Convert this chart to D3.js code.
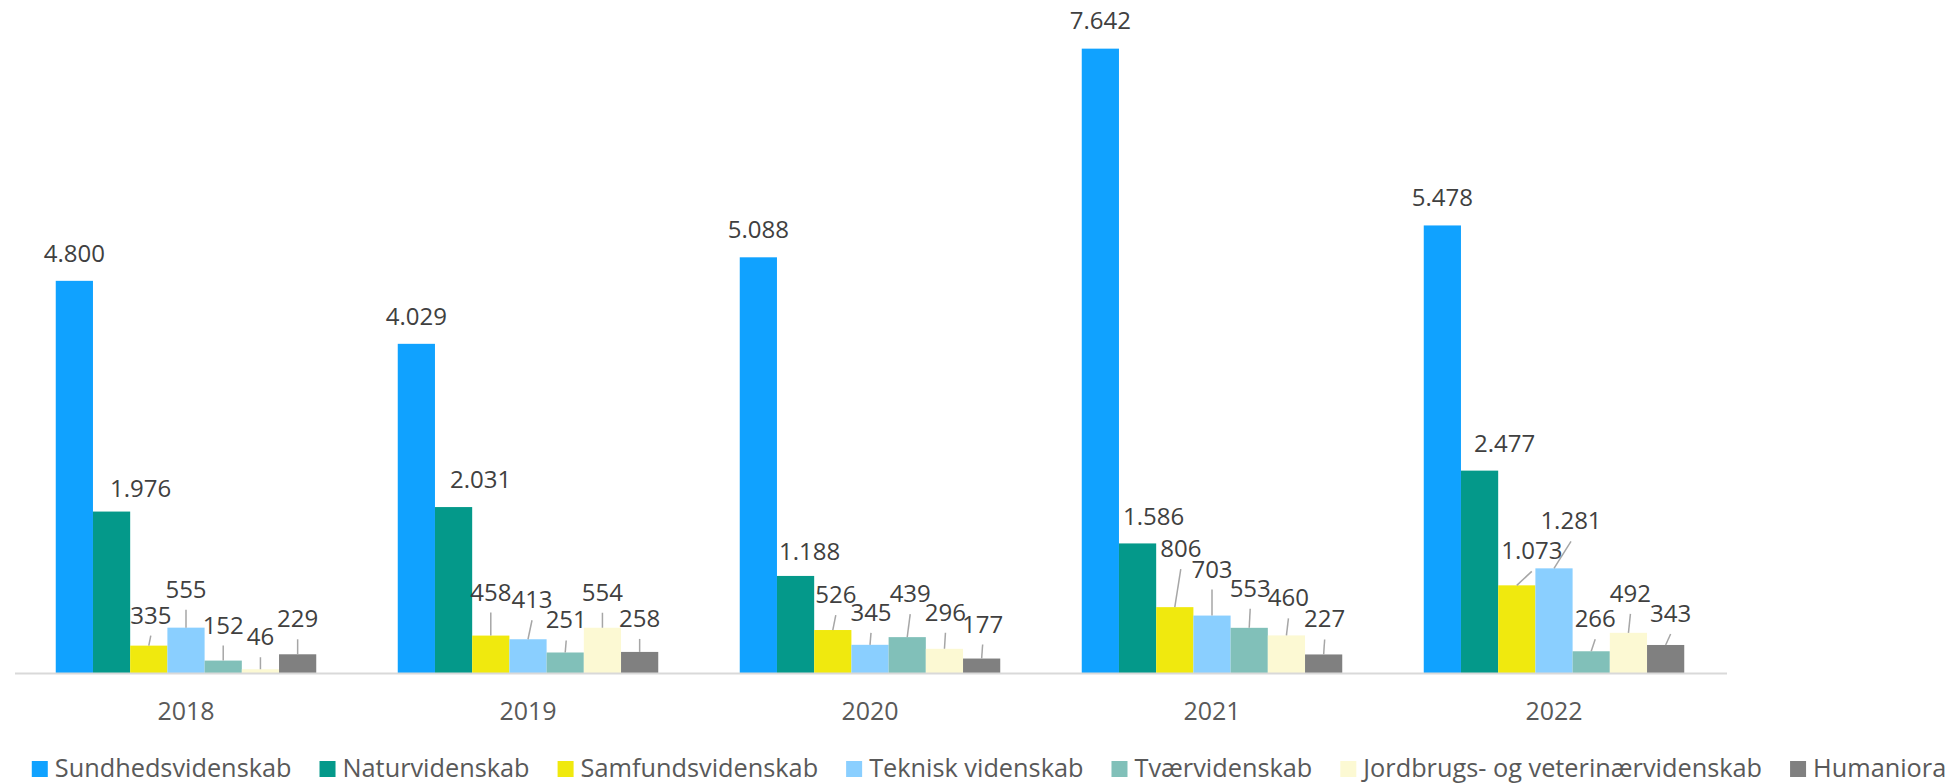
<!DOCTYPE html>
<html>
<head>
<meta charset="utf-8">
<script src="https://cdn.jsdelivr.net/npm/d3@7"></script>
<style>
  html, body { margin:0; padding:0; background:#fff; }
  svg text { font-family: "Open Sans", sans-serif; }
</style>
</head>
<body>
<div id="chart"></div>
<script>
// categories and series
var years = ["2018", "2019", "2020", "2021", "2022"];
var seriesNames = ["Sundhedsvidenskab", "Naturvidenskab", "Samfundsvidenskab", "Teknisk videnskab",
  "Tværvidenskab", "Jordbrugs- og veterinærvidenskab", "Humaniora"];
var sundhed   = [4800, 4029, 5088, 7642, 5478];
var natur     = [1976, 2031, 1188, 1586, 2477];
var samfund   = [335, 458, 526, 806, 1073];
var teknisk   = [555, 413, 345, 703, 1281];
var tvaer     = [152, 251, 439, 553, 266];
var jordbrug  = [46, 554, 296, 460, 492];
var humaniora = [229, 258, 177, 227, 343];
var seriesValues = [sundhed, natur, samfund, teknisk, tvaer, jordbrug, humaniora];

var colors = ["#10a2ff", "#04998a", "#f0e90e", "#8acfff", "#81c0b9", "#fcf9d3", "#808080"];

// hand placed labels as in the original: [shift right, distance above bar]
var labelNudge = [
  [[0,19],[0,19],[0,19],[0,20],[0,19]],
  [[29,15],[27,19],[14,16],[16,18],[25,19]],
  [[2,22],[0,35],[3,27],[6,50],[15,26]],
  [[0,30],[4,31],[1,24],[0,38],[17,39]],
  [[0,27],[1,24],[3,35],[1,31],[4,24]],
  [[0,24],[0,27],[1,28],[2,29],[2,31]],
  [[0,27],[0,25],[1,26],[1,27],[5,23]]
];

var width = 1958, height = 784;
var baseY = 673;

var svg = d3.select("#chart").append("svg")
  .attr("width", width)
  .attr("height", height);

var locale = d3.formatLocale({decimal: ",", thousands: ".", grouping: [3], currency: ["", " kr"]});
var fmt = locale.format(",d");

var x0 = d3.scaleBand().domain(years).range([15, 1725]).padding(0);
var x1 = d3.scaleBand().domain(seriesNames).range([0, x0.bandwidth()])
  .paddingInner(0).paddingOuter(1.095);
var y = d3.scaleLinear().domain([0, 8000]).range([baseY, baseY - 8000 * 0.0817]);

// flatten
var points = [];
seriesNames.forEach(function(s, si){
  years.forEach(function(yr, yi){
    points.push({series: s, si: si, year: yr, yi: yi, value: seriesValues[si][yi]});
  });
});

var g = svg.append("g");

g.selectAll("rect.bar")
  .data(points)
  .enter()
  .append("rect")
  .attr("class", "bar")
  .attr("x", function(d){ return x0(d.year) + x1(d.series); })
  .attr("y", function(d){ return y(d.value); })
  .attr("width", x1.bandwidth())
  .attr("height", function(d){ return baseY - y(d.value); })
  .attr("fill", function(d){ return colors[d.si]; });

// axis line
svg.append("line")
  .attr("x1", 15).attr("x2", 1727)
  .attr("y1", baseY + 0.5).attr("y2", baseY + 0.5)
  .attr("stroke", "#d9d9d9")
  .attr("stroke-width", 2);

// category labels
svg.selectAll("text.year")
  .data(years)
  .enter()
  .append("text")
  .attr("class", "year")
  .attr("x", function(d){ return x0(d) + x0.bandwidth() / 2; })
  .attr("y", 720)
  .attr("text-anchor", "middle")
  .attr("fill", "#595959")
  .style("font-size", "25px")
  .text(function(d){ return d; });

// data labels + leader lines
function labelX(d){ return x0(d.year) + x1(d.series) + x1.bandwidth() / 2 + labelNudge[d.si][d.yi][0]; }
function labelY(d){ return y(d.value) - labelNudge[d.si][d.yi][1]; }

g.selectAll("line.leader")
  .data(points.filter(function(d){ return labelNudge[d.si][d.yi][1] > 21; }))
  .enter()
  .append("line")
  .attr("class", "leader")
  .attr("x1", labelX)
  .attr("y1", function(d){ return labelY(d) + 12; })
  .attr("x2", function(d){ return x0(d.year) + x1(d.series) + x1.bandwidth() / 2; })
  .attr("y2", function(d){ return y(d.value); })
  .attr("stroke", "#a6a6a6")
  .attr("stroke-width", 1.5);

g.selectAll("text.val")
  .data(points)
  .enter()
  .append("text")
  .attr("class", "val")
  .attr("x", labelX)
  .attr("y", labelY)
  .attr("text-anchor", "middle")
  .attr("fill", "#404040")
  .style("font-size", "24px")
  .text(function(d){ return fmt(d.value); });

// legend
var legend = svg.append("g").attr("class", "legend");
var items = legend.selectAll("g")
  .data(seriesNames)
  .enter()
  .append("g");
items.append("rect")
  .attr("width", 16).attr("height", 16)
  .attr("y", 761)
  .attr("fill", function(d, i){ return colors[i]; });
items.append("text")
  .attr("x", 23)
  .attr("y", 777)
  .attr("fill", "#595959")
  .style("font-size", "25.3px")
  .text(function(d){ return d; });

var cursor = 0, gap = 28;
items.each(function(){
  var t = d3.select(this).select("text").node().getComputedTextLength();
  d3.select(this).attr("transform", "translate(" + cursor + ",0)");
  cursor += 23 + t + gap;
});
var totalW = cursor - gap;
legend.attr("transform", "translate(" + (989 - totalW / 2) + ",0)");
</script>
</body>
</html>
